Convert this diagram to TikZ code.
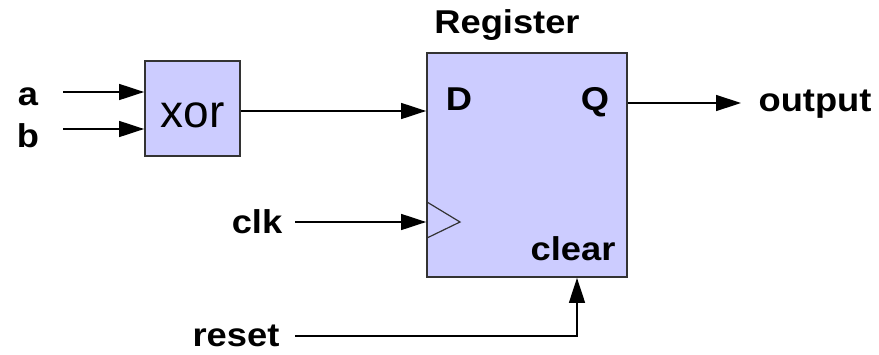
\documentclass[tikz,border=0pt]{standalone}
\usepackage{fontspec}
\setmainfont{Liberation Sans}[FakeStretch=1.1]
\newfontfamily\xorfont{Liberation Sans}
\usetikzlibrary{arrows.meta}
\definecolor{regfill}{HTML}{CCCCFF}
\definecolor{edge}{HTML}{333333}
\begin{document}
\begin{tikzpicture}[x=1pt,y=-1pt,
  blk/.style={draw=edge, line width=1.8pt, fill=regfill, inner sep=0pt},
  lab/.style={font=\fontsize{33}{38}\selectfont\bfseries, inner sep=0pt, anchor=base},
  wire/.style={line width=1.4pt, -{Triangle[length=25pt,width=16pt]}}]
\useasboundingbox (0,0) rectangle (879,354);
% blocks
\node[blk, minimum width=95pt, minimum height=95pt, text height=37pt, text depth=0pt,
      font=\xorfont\fontsize{46}{50}\selectfont] (xor) at (192.5,108.5) {xor};
\node[blk, minimum width=200pt, minimum height=224pt] (reg) at (527,165) {};
% clock triangle
\draw[line width=1.2pt, edge] (427,202) -- (460,222) -- (427,238);
% labels
\node[lab] (regl) at (507,33) {Register};
\node[lab] (dl) at (459,110) {D};
\node[lab] (ql) at (595,110) {Q};
\node[lab] (clrl) at (573,260) {clear};
\node[lab] (al) at (28,105) {a};
\node[lab] (bl) at (28,147) {b};
\node[lab] (clkl) at (257,233) {clk};
\node[lab] (rstl) at (236,346) {reset};
\node[lab] (outl) at (815,111) {output};
% wire ends
\coordinate (ain) at (63,92);
\coordinate (bin) at (63,129);
\coordinate (clkin) at (295,222);
\coordinate (rstin) at (295,336);
\coordinate (clrx) at (577,0);
\coordinate (qy) at (0,103);
\coordinate (outend) at (741,103);
% wires
\draw[wire] (ain) -- (ain -| xor.west);
\draw[wire] (bin) -- (bin -| xor.west);
\draw[wire] ([yshift=-2.5pt]xor.east) -- ([yshift=-2.5pt]xor.east -| reg.west);
\draw[wire] (reg.east |- qy) -- (outend);
\draw[wire] (clkin) -- (clkin -| reg.west);
\draw[wire] (rstin) -| (reg.south -| clrx);
\end{tikzpicture}
\end{document}
